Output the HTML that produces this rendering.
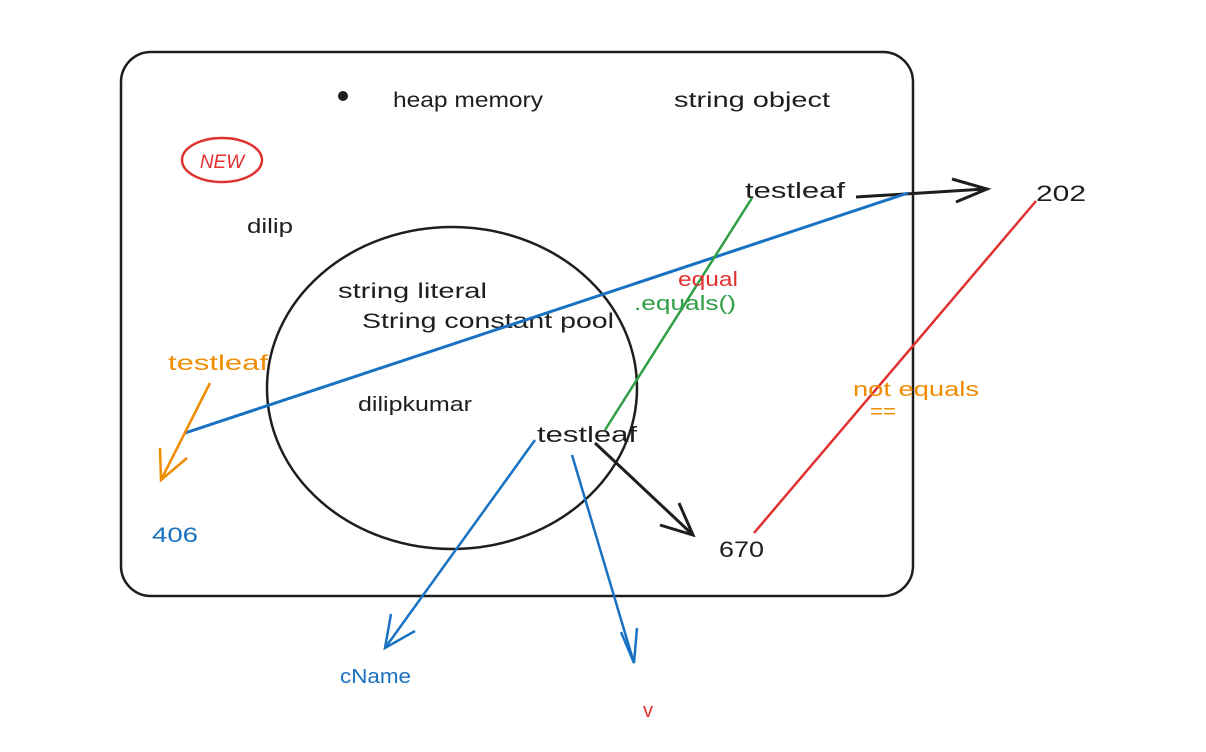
<!DOCTYPE html>
<html><head><meta charset="utf-8"><style>
html,body{margin:0;padding:0;background:#fff;}
svg text{font-family:"Liberation Sans",sans-serif;}
</style></head><body>
<svg width="1206" height="747" viewBox="0 0 1206 747" xmlns="http://www.w3.org/2000/svg">
<rect x="121" y="52" width="792" height="544" rx="30" fill="none" stroke="#1e1e1e" stroke-width="2.5"/>
<circle cx="343" cy="96" r="5" fill="#1e1e1e"/>
<text x="393" y="107" font-size="21" fill="#1e1e1e" textLength="150" lengthAdjust="spacingAndGlyphs">heap memory</text>
<text x="674" y="107" font-size="21" fill="#1e1e1e" textLength="156" lengthAdjust="spacingAndGlyphs">string object</text>
<ellipse cx="222" cy="160" rx="40" ry="22" fill="none" stroke="#e03131" stroke-width="2.5"/>
<text x="222" y="168" font-size="19" fill="#e03131" text-anchor="middle" font-style="italic">NEW</text>
<text x="247" y="233" font-size="20" fill="#1e1e1e" textLength="46" lengthAdjust="spacingAndGlyphs">dilip</text>
<ellipse cx="452" cy="388" rx="185" ry="161" fill="none" stroke="#1e1e1e" stroke-width="2.5"/>
<text x="338" y="298" font-size="21" fill="#1e1e1e" textLength="149" lengthAdjust="spacingAndGlyphs">string literal</text>
<text x="362" y="328" font-size="21" fill="#1e1e1e" textLength="252" lengthAdjust="spacingAndGlyphs">String constant pool</text>
<text x="358" y="411" font-size="20" fill="#1e1e1e" textLength="114" lengthAdjust="spacingAndGlyphs">dilipkumar</text>
<text x="537" y="442" font-size="22" fill="#1e1e1e" textLength="100" lengthAdjust="spacingAndGlyphs">testleaf</text>
<text x="745" y="198" font-size="22" fill="#1e1e1e" textLength="100" lengthAdjust="spacingAndGlyphs">testleaf</text>
<text x="1036" y="201" font-size="22" fill="#1e1e1e" textLength="50" lengthAdjust="spacingAndGlyphs">202</text>
<text x="719" y="557" font-size="22" fill="#1e1e1e" textLength="45" lengthAdjust="spacingAndGlyphs">670</text>
<line x1="856" y1="197" x2="985" y2="189" stroke="#1e1e1e" stroke-width="3"/>
<polyline points="952,179 987,189 956,202" fill="none" stroke="#1e1e1e" stroke-width="3"/>
<line x1="185" y1="433" x2="908" y2="193" stroke="#1971c2" stroke-width="3"/>
<text x="168" y="370" font-size="21" fill="#f08c00" textLength="100" lengthAdjust="spacingAndGlyphs">testleaf</text>
<line x1="210" y1="383" x2="161" y2="480" stroke="#f08c00" stroke-width="2.5"/>
<polyline points="160,448 161,480 187,458" fill="none" stroke="#f08c00" stroke-width="2.5"/>
<text x="152" y="542" font-size="21" fill="#1971c2" textLength="46" lengthAdjust="spacingAndGlyphs">406</text>
<line x1="605" y1="430" x2="752" y2="198" stroke="#2f9e44" stroke-width="2.5"/>
<text x="678" y="286" font-size="20" fill="#e03131" textLength="60" lengthAdjust="spacingAndGlyphs">equal</text>
<text x="634" y="310" font-size="20" fill="#2f9e44" textLength="102" lengthAdjust="spacingAndGlyphs">.equals()</text>
<line x1="754" y1="533" x2="1036" y2="201" stroke="#e03131" stroke-width="2.5"/>
<text x="853" y="396" font-size="20" fill="#f08c00" textLength="126" lengthAdjust="spacingAndGlyphs">not equals</text>
<text x="870" y="418" font-size="20" fill="#f08c00" textLength="26" lengthAdjust="spacingAndGlyphs">==</text>
<line x1="595" y1="443" x2="693" y2="535" stroke="#1e1e1e" stroke-width="3"/>
<polyline points="679,503 693,535 660,525" fill="none" stroke="#1e1e1e" stroke-width="3"/>
<line x1="535" y1="440" x2="385" y2="648" stroke="#1971c2" stroke-width="2.5"/>
<polyline points="391,614 385,648 415,631" fill="none" stroke="#1971c2" stroke-width="2.5"/>
<text x="340" y="683" font-size="20" fill="#1971c2" textLength="71" lengthAdjust="spacingAndGlyphs">cName</text>
<line x1="572" y1="455" x2="634" y2="663" stroke="#1971c2" stroke-width="2.5"/>
<polyline points="621,632 634,663 637,628" fill="none" stroke="#1971c2" stroke-width="2.5"/>
<text x="643" y="717" font-size="20" fill="#e03131">v</text>
</svg>
</body></html>
